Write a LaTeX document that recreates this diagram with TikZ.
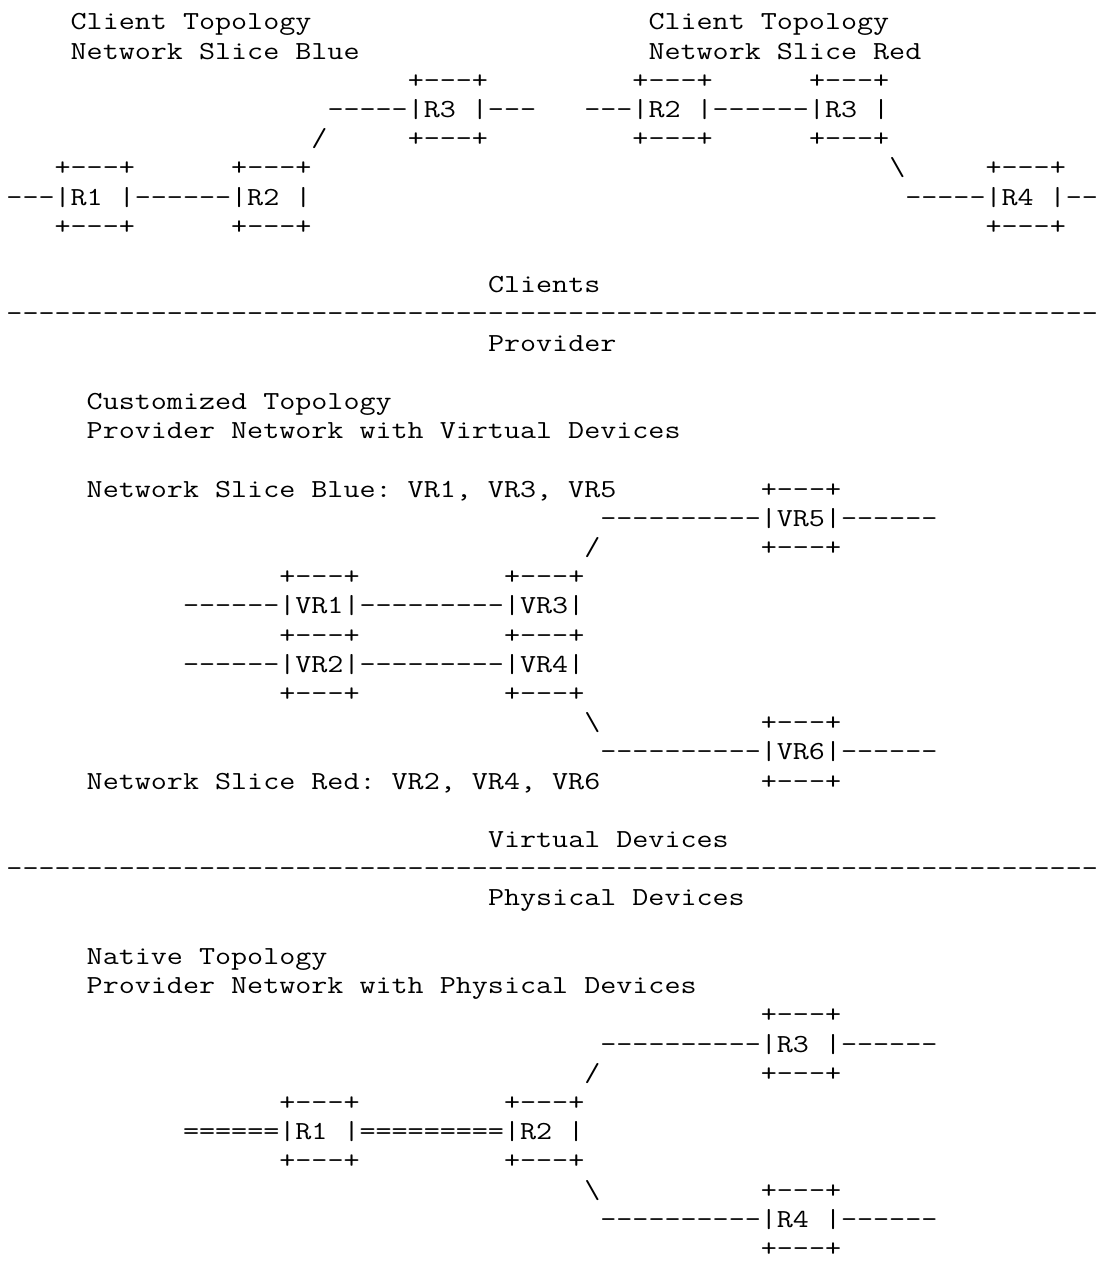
\documentclass[tikz,border=0pt]{standalone}
\usepackage{tikz}
\usepackage{graphicx}

\newlength\chw
\AtBeginDocument{\settowidth\chw{\fontsize{26pt}{26pt}\ttfamily\selectfont 0}}

\begin{document}
\begin{tikzpicture}[x=\chw, y=-29.2pt, xscale={16.05/\chw},
	asc/.style={anchor=base west, inner sep=0pt, outer sep=0pt, transform shape,
		font=\fontsize{26pt}{26pt}\ttfamily\selectfont\frenchspacing}]
	
	\useasboundingbox (-0.405,-1.0274) rectangle (68.442,42.158);
	
	% clients
	\node[asc] (bT) at (4,0) {Client Topology};
	\node[asc] (bN) at (4,1) {Network Slice Blue};
	\node[asc] (rT) at (40,0) {Client Topology};
	\node[asc] (rN) at (40,1) {Network Slice Red};
	
	\node[asc] (bR3t) at (25,2) {+---+};
	\node[asc] (rR2t) at (39,2) {+---+};
	\node[asc] (rR3t) at (50,2) {+---+};
	\node[asc] (bR3) at (20,3) {-----|R3 |---};
	\node[asc] (rR23) at (36,3) {---|R2 |------|R3 |};
	\node[asc] (bUp) at (19,4) {/};
	\node[asc] (bR3b) at (25,4) {+---+};
	\node[asc] (rR2b) at (39,4) {+---+};
	\node[asc] (rR3b) at (50,4) {+---+};
	
	\node[asc] (bR1t) at (3,5) {+---+};
	\node[asc] (bR2t) at (14,5) {+---+};
	\node[asc] (rDn) at (55,5) {\textbackslash};
	\node[asc] (rR4t) at (61,5) {+---+};
	\node[asc] (bR12) at (0,6) {---|R1 |------|R2 |};
	\node[asc] (rR4) at (56,6) {-----|R4 |--};
	\node[asc] (bR1b) at (3,7) {+---+};
	\node[asc] (bR2b) at (14,7) {+---+};
	\node[asc] (rR4b) at (61,7) {+---+};
	
	\node[asc] (cl) at (30,9) {Clients};
	\node[asc] (cut1) at (0,10) {--------------------------------------------------------------------};
	\node[asc] (pr) at (30,11) {Provider};
	
	% virtual devices
	\node[asc] (vT) at (5,13) {Customized Topology};
	\node[asc] (vN) at (5,14) {Provider Network with Virtual Devices};
	\node[asc] (vBlue) at (5,16) {Network Slice Blue: VR1, VR3, VR5};
	\node[asc] (vr5t) at (47,16) {+---+};
	\node[asc] (vr5) at (37,17) {----------|VR5|------};
	\node[asc] (vUp) at (36,18) {/};
	\node[asc] (vr5b) at (47,18) {+---+};
	\node[asc] (vr1t) at (17,19) {+---+};
	\node[asc] (vr3t) at (31,19) {+---+};
	\node[asc] (vr13) at (11,20) {------|VR1|---------|VR3|};
	\node[asc] (vr1b) at (17,21) {+---+};
	\node[asc] (vr3b) at (31,21) {+---+};
	\node[asc] (vr24) at (11,22) {------|VR2|---------|VR4|};
	\node[asc] (vr2b) at (17,23) {+---+};
	\node[asc] (vr4b) at (31,23) {+---+};
	\node[asc] (vDn) at (36,24) {\textbackslash};
	\node[asc] (vr6t) at (47,24) {+---+};
	\node[asc] (vr6) at (37,25) {----------|VR6|------};
	\node[asc] (vRed) at (5,26) {Network Slice Red: VR2, VR4, VR6};
	\node[asc] (vr6b) at (47,26) {+---+};
	
	\node[asc] (vd) at (30,28) {Virtual Devices};
	\node[asc] (cut2) at (0,29) {--------------------------------------------------------------------};
	\node[asc] (pd) at (30,30) {Physical Devices};
	
	% physical devices
	\node[asc] (pT) at (5,32) {Native Topology};
	\node[asc] (pN) at (5,33) {Provider Network with Physical Devices};
	\node[asc] (pR3t) at (47,34) {+---+};
	\node[asc] (pR3) at (37,35) {----------|R3 |------};
	\node[asc] (pUp) at (36,36) {/};
	\node[asc] (pR3b) at (47,36) {+---+};
	\node[asc] (pR1t) at (17,37) {+---+};
	\node[asc] (pR2t) at (31,37) {+---+};
	\node[asc] (pR12) at (11,38) {======|R1 |=========|R2 |};
	\node[asc] (pR1b) at (17,39) {+---+};
	\node[asc] (pR2b) at (31,39) {+---+};
	\node[asc] (pDn) at (36,40) {\textbackslash};
	\node[asc] (pR4t) at (47,40) {+---+};
	\node[asc] (pR4) at (37,41) {----------|R4 |------};
	\node[asc] (pR4b) at (47,42) {+---+};
	
\end{tikzpicture}
\end{document}
